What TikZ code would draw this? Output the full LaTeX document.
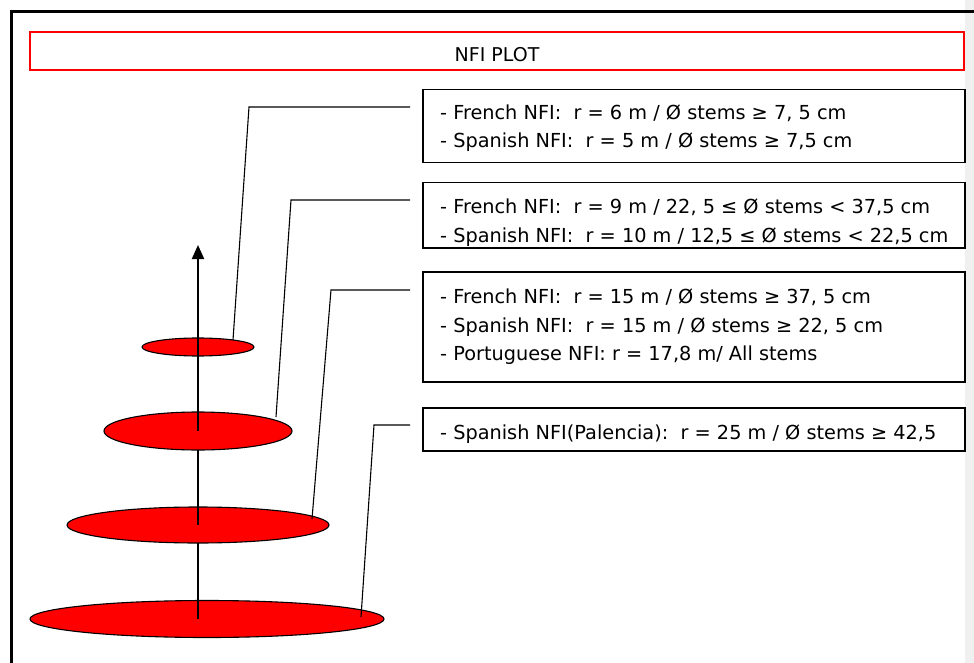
\documentclass[tikz,border=0pt]{standalone}
\usepackage{fontspec}
\setmainfont{DejaVu Sans}
\usetikzlibrary{shapes.geometric,arrows.meta}
\begin{document}
\begin{tikzpicture}[x=1pt,y=-1pt,
  infobox/.style={draw=black,line width=1.5pt,minimum width=542pt,inner sep=0pt,anchor=north west},
  txt/.style={anchor=base west,inner sep=0pt,font=\fontsize{19.3}{23}\selectfont},
  plate/.style={ellipse,draw=black,fill=red,line width=1.1pt,inner sep=0pt},
  conn/.style={draw=black,line width=1.1pt},
  axisline/.style={draw=black,line width=2pt}]
\useasboundingbox (0,0) rectangle (974,663);
\fill[white] (0,0) rectangle (974,663);
\fill[black!6] (965,0) rectangle (974,663);
\draw[line width=3pt] (11,663) -- (11,12) -- (974,12);

% title
\node[draw=red,line width=1.5pt,minimum width=934pt,minimum height=38pt,inner sep=0pt] (title) at (497,51) {};
\node[inner sep=0pt,font=\fontsize{19}{22}\selectfont] (ttl) at (497,55) {NFI PLOT};

% boxes
\node[infobox,minimum height=73pt] (b1) at (422,89) {};
\node[infobox,minimum height=65pt] (b2) at (422,182) {};
\node[infobox,minimum height=110pt] (b3) at (422,271) {};
\node[infobox,minimum height=43pt] (b4) at (422,407) {};

\node[txt] (t11) at (440,120) {- French NFI:\ \ r = 6 m / Ø stems ≥ 7, 5 cm};
\node[txt] (t12) at (440,148) {- Spanish NFI:\ \ r = 5 m / Ø stems ≥ 7,5 cm};
\node[txt] (t21) at (440,214) {- French NFI:\ \ r = 9 m / 22, 5 ≤ Ø stems < 37,5 cm};
\node[txt] (t22) at (440,242) {- Spanish NFI:\ \ r = 10 m / 12,5 ≤ Ø stems < 22,5 cm};
\node[txt] (t31) at (440,303) {- French NFI:\ \ r = 15 m / Ø stems ≥ 37, 5 cm};
\node[txt] (t32) at (440,332) {- Spanish NFI:\ \ r = 15 m / Ø stems ≥ 22, 5 cm};
\node[txt] (t33) at (440,360) {- Portuguese NFI: r = 17,8 m/ All stems};
\node[txt] (t41) at (440,439) {- Spanish NFI(Palencia):\ \ r = 25 m / Ø stems ≥ 42,5};

% plates and axis
\coordinate (p1) at (198,347);
\coordinate (p2) at (198,431);
\coordinate (p3) at (198,525);
\coordinate (p4) at (198,619);
\coordinate (tip) at (198,245);
\node[plate,minimum width=354pt,minimum height=37pt] (e4) at (207,619) {};
\draw[axisline] (p4) -- (p3);
\node[plate,minimum width=262pt,minimum height=36pt] (e3) at (p3) {};
\draw[axisline] (p3) -- (p2);
\node[plate,minimum width=188pt,minimum height=38pt] (e2) at (p2) {};
\node[plate,minimum width=112pt,minimum height=18pt] (e1) at (p1) {};
\draw[axisline,-{Triangle[width=12pt,length=14pt]}] (p2) -- (tip);

% connectors
\coordinate (k1s) at (410,107); \coordinate (k1c) at (249,107); \coordinate (k1e) at (233,340);
\coordinate (k2s) at (410,200); \coordinate (k2c) at (291,200); \coordinate (k2e) at (276,417);
\coordinate (k3s) at (410,290); \coordinate (k3c) at (331,290); \coordinate (k3e) at (312,519);
\coordinate (k4s) at (410,425); \coordinate (k4c) at (374,425); \coordinate (k4e) at (361,617);
\draw[conn] (k1s) -- (k1c) -- (k1e);
\draw[conn] (k2s) -- (k2c) -- (k2e);
\draw[conn] (k3s) -- (k3c) -- (k3e);
\draw[conn] (k4s) -- (k4c) -- (k4e);
\end{tikzpicture}
\end{document}
